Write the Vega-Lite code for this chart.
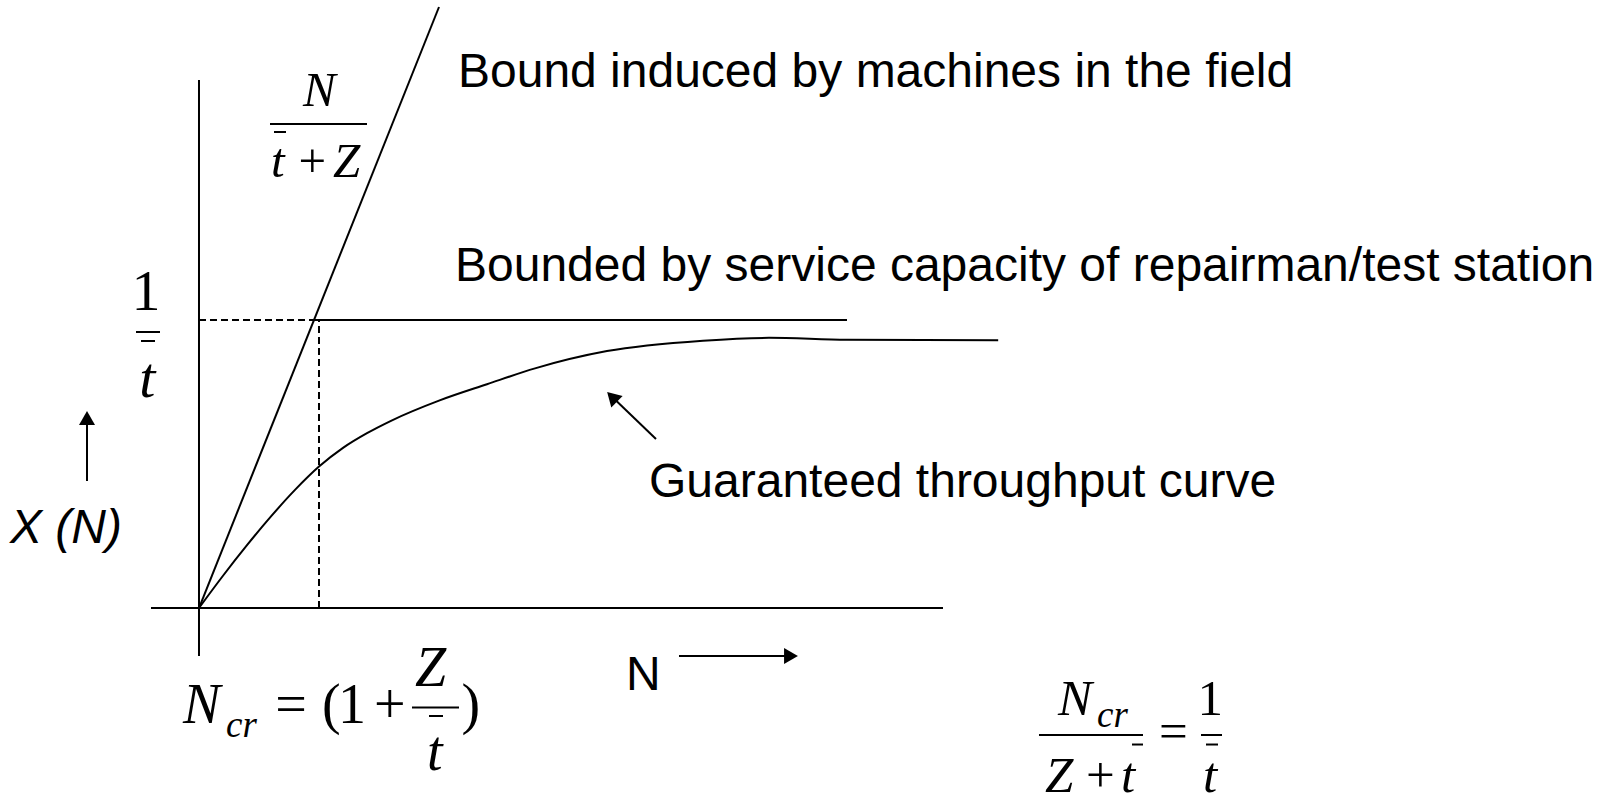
{
  "$schema": "https://vega.github.io/schema/vega-lite/v6.json",
  "width": 1614,
  "height": 805,
  "padding": 0,
  "autosize": {"type": "none"},
  "background": "white",
  "config": {"view": {"stroke": null}},
  "datasets": {
    "axes": [
      {"x": 0, "y": 1.8333, "x2": 0, "y2": -0.1667},
      {"x": -0.4, "y": 0, "x2": 6.2, "y2": 0}
    ],
    "bounds": [
      {"x": 0, "y": 0, "x2": 2.0, "y2": 2.0868},
      {"x": 0.958, "y": 1, "x2": 5.4, "y2": 1}
    ],
    "dashed": [
      {"x": 0, "y": 1, "x2": 0.958, "y2": 1},
      {"x": 1, "y": 0, "x2": 1, "y2": 1}
    ],
    "curve": [
      {"x": 0, "y": 0},
      {"x": 0.2, "y": 0.112},
      {"x": 0.4, "y": 0.218},
      {"x": 0.6, "y": 0.318},
      {"x": 0.8, "y": 0.41},
      {"x": 1.0, "y": 0.491},
      {"x": 1.2, "y": 0.556},
      {"x": 1.4, "y": 0.607},
      {"x": 1.6, "y": 0.65},
      {"x": 2.0, "y": 0.72},
      {"x": 2.4, "y": 0.777},
      {"x": 2.8, "y": 0.832},
      {"x": 3.4, "y": 0.892},
      {"x": 4.2, "y": 0.928},
      {"x": 4.75, "y": 0.938},
      {"x": 5.4, "y": 0.931},
      {"x": 6.66, "y": 0.9295}
    ],
    "shafts": [
      {"x": -0.9333, "y": 0.441, "x2": -0.9333, "y2": 0.66},
      {"x": 4.0, "y": -0.1667, "x2": 4.93, "y2": -0.1667},
      {"x": 3.8083, "y": 0.5868, "x2": 3.4421, "y2": 0.7332}
    ],
    "headUp": [{"x": -0.9333, "y": 0.6597}],
    "headRight": [{"x": 4.9333, "y": -0.1667}],
    "headDiag": [{"x": 3.4421, "y": 0.7332}],
    "labels": [
      {"x": 2.1583, "y": 1.809, "t": "Bound induced by machines in the field"},
      {"x": 2.1333, "y": 1.1354, "t": "Bounded by service capacity of repairman/test station"},
      {"x": 3.75, "y": 0.3854, "t": "Guaranteed throughput curve"},
      {"x": 3.5583, "y": -0.2847, "t": "N"}
    ],
    "axisLabel": [
      {"x": -1.575, "y": 0.2257, "t": "X (N)"}
    ],
    "mathBars": [
      {"x": 0.5917, "y": 1.6806, "x2": 1.4, "y2": 1.6806},
      {"x": 0.625, "y": 1.6528, "x2": 0.725, "y2": 1.6528},
      {"x": -0.525, "y": 0.9583, "x2": -0.325, "y2": 0.9583},
      {"x": -0.4833, "y": 0.9271, "x2": -0.3667, "y2": 0.9271},
      {"x": 1.775, "y": -0.3455, "x2": 2.1667, "y2": -0.3455},
      {"x": 1.9167, "y": -0.375, "x2": 2.0333, "y2": -0.375},
      {"x": 7.0, "y": -0.441, "x2": 7.8667, "y2": -0.441},
      {"x": 8.35, "y": -0.441, "x2": 8.525, "y2": -0.441},
      {"x": 7.775, "y": -0.474, "x2": 7.8667, "y2": -0.474},
      {"x": 8.3917, "y": -0.474, "x2": 8.4917, "y2": -0.474}
    ],
    "italic49": [
      {"x": 0.8667, "y": 1.7431, "t": "N"},
      {"x": 0.6, "y": 1.4965, "t": "t"},
      {"x": 1.1167, "y": 1.4965, "t": "Z"}
    ],
    "roman49": [
      {"x": 0.83, "y": 1.4965, "t": "+"}
    ],
    "roman58": [
      {"x": -0.5617, "y": 1.0347, "t": "1"}
    ],
    "italic58": [
      {"x": -0.4983, "y": 0.7326, "t": "t"}
    ],
    "italic56": [
      {"x": -0.1333, "y": -0.3993, "t": "N"},
      {"x": 1.8, "y": -0.2708, "t": "Z"},
      {"x": 1.9, "y": -0.5642, "t": "t"}
    ],
    "roman56": [
      {"x": 0.6358, "y": -0.3993, "t": "="},
      {"x": 1.025, "y": -0.3993, "t": "("},
      {"x": 1.1583, "y": -0.3993, "t": "1"},
      {"x": 1.4583, "y": -0.3993, "t": "+"},
      {"x": 2.1867, "y": -0.3993, "t": ")"}
    ],
    "italic37": [
      {"x": 0.225, "y": -0.4479, "t": "cr"},
      {"x": 7.4833, "y": -0.4133, "t": "cr"}
    ],
    "italic51": [
      {"x": 7.1583, "y": -0.3716, "t": "N"},
      {"x": 7.05, "y": -0.6389, "t": "Z"},
      {"x": 7.6833, "y": -0.6389, "t": "t"},
      {"x": 8.3667, "y": -0.6389, "t": "t"}
    ],
    "roman51": [
      {"x": 7.3917, "y": -0.6389, "t": "+"},
      {"x": 8.0, "y": -0.4862, "t": "="},
      {"x": 8.3208, "y": -0.3716, "t": "1"}
    ]
  },
  "encoding": {
    "x": {"field": "x", "type": "quantitative", "axis": null, "scale": {"domain": [-1.6583, 11.7917], "nice": false, "zero": false}},
    "y": {"field": "y", "type": "quantitative", "axis": null, "scale": {"domain": [-0.684, 2.1111], "nice": false, "zero": false}}
  },
  "layer": [
    {"data": {"name": "axes"}, "mark": {"type": "rule", "color": "black", "strokeWidth": 2},
     "encoding": {"x2": {"field": "x2"}, "y2": {"field": "y2"}}},
    {"data": {"name": "bounds"}, "mark": {"type": "rule", "color": "black", "strokeWidth": 2},
     "encoding": {"x2": {"field": "x2"}, "y2": {"field": "y2"}}},
    {"data": {"name": "dashed"}, "mark": {"type": "rule", "color": "black", "strokeWidth": 2, "strokeDash": [7, 4]},
     "encoding": {"x2": {"field": "x2"}, "y2": {"field": "y2"}}},
    {"data": {"name": "curve"}, "mark": {"type": "line", "color": "black", "strokeWidth": 2, "interpolate": "monotone"},
     "encoding": {}},
    {"data": {"name": "shafts"}, "mark": {"type": "rule", "color": "black", "strokeWidth": 2},
     "encoding": {"x2": {"field": "x2"}, "y2": {"field": "y2"}}},
    {"data": {"name": "headUp"}, "mark": {"type": "point", "shape": "triangle-up", "filled": true, "color": "black", "opacity": 1, "size": 256},
     "encoding": {}},
    {"data": {"name": "headRight"}, "mark": {"type": "point", "shape": "triangle-right", "filled": true, "color": "black", "opacity": 1, "size": 256},
     "encoding": {}},
    {"data": {"name": "headDiag"}, "mark": {"type": "point", "shape": "triangle-up", "angle": 315, "filled": true, "color": "black", "opacity": 1, "size": 256},
     "encoding": {}},
    {"data": {"name": "mathBars"}, "mark": {"type": "rule", "color": "black", "strokeWidth": 2},
     "encoding": {"x2": {"field": "x2"}, "y2": {"field": "y2"}}},
    {"data": {"name": "labels"}, "mark": {"type": "text", "font": "Liberation Sans", "fontSize": 48, "align": "left", "baseline": "alphabetic", "color": "black"},
     "encoding": {"text": {"field": "t"}}},
    {"data": {"name": "axisLabel"}, "mark": {"type": "text", "font": "Liberation Sans", "fontSize": 48, "fontStyle": "italic", "align": "left", "baseline": "alphabetic", "color": "black"},
     "encoding": {"text": {"field": "t"}}},
    {"data": {"name": "italic49"}, "mark": {"type": "text", "font": "Liberation Serif", "fontSize": 49, "fontStyle": "italic", "align": "left", "baseline": "alphabetic", "color": "black"},
     "encoding": {"text": {"field": "t"}}},
    {"data": {"name": "roman49"}, "mark": {"type": "text", "font": "Liberation Serif", "fontSize": 49, "align": "left", "baseline": "alphabetic", "color": "black"},
     "encoding": {"text": {"field": "t"}}},
    {"data": {"name": "roman58"}, "mark": {"type": "text", "font": "Liberation Serif", "fontSize": 58, "align": "left", "baseline": "alphabetic", "color": "black"},
     "encoding": {"text": {"field": "t"}}},
    {"data": {"name": "italic58"}, "mark": {"type": "text", "font": "Liberation Serif", "fontSize": 58, "fontStyle": "italic", "align": "left", "baseline": "alphabetic", "color": "black"},
     "encoding": {"text": {"field": "t"}}},
    {"data": {"name": "italic56"}, "mark": {"type": "text", "font": "Liberation Serif", "fontSize": 56, "fontStyle": "italic", "align": "left", "baseline": "alphabetic", "color": "black"},
     "encoding": {"text": {"field": "t"}}},
    {"data": {"name": "roman56"}, "mark": {"type": "text", "font": "Liberation Serif", "fontSize": 56, "align": "left", "baseline": "alphabetic", "color": "black"},
     "encoding": {"text": {"field": "t"}}},
    {"data": {"name": "italic37"}, "mark": {"type": "text", "font": "Liberation Serif", "fontSize": 37, "fontStyle": "italic", "align": "left", "baseline": "alphabetic", "color": "black"},
     "encoding": {"text": {"field": "t"}}},
    {"data": {"name": "italic51"}, "mark": {"type": "text", "font": "Liberation Serif", "fontSize": 51, "fontStyle": "italic", "align": "left", "baseline": "alphabetic", "color": "black"},
     "encoding": {"text": {"field": "t"}}},
    {"data": {"name": "roman51"}, "mark": {"type": "text", "font": "Liberation Serif", "fontSize": 51, "align": "left", "baseline": "alphabetic", "color": "black"},
     "encoding": {"text": {"field": "t"}}}
  ]
}
